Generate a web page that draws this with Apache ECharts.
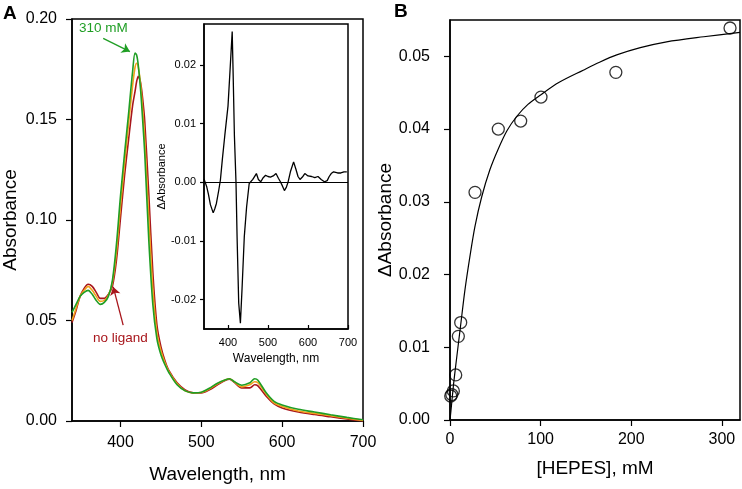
<!DOCTYPE html>
<html>
<head>
<meta charset="utf-8">
<script src="https://cdn.jsdelivr.net/npm/echarts@6/dist/echarts.min.js"></script>
<style>
  html, body { margin: 0; padding: 0; background: #fff; }
  #chart { width: 742px; height: 489px; }
</style>
</head>
<body>
<div id="chart"></div>
<script>
// panel A: spectra (wavelength, nm)
var wavelengths = [340,345,350,355,360,365,370,375,380,385,390,395,400,405,410,415,418,420,422,425,428,430,435,440,445,450,455,460,470,480,490,500,510,520,530,535,540,550,560,566,570,580,590,600,620,640,660,680,700];
var absNoLigand = [0.049,0.055,0.062,0.066,0.068,0.067,0.064,0.061,0.061,0.063,0.067,0.080,0.101,0.122,0.140,0.157,0.164,0.169,0.1715,0.168,0.158,0.149,0.113,0.074,0.048,0.037,0.030,0.025,0.019,0.0155,0.014,0.014,0.0155,0.018,0.0203,0.0208,0.0195,0.0165,0.0165,0.018,0.0175,0.0125,0.0085,0.0065,0.0045,0.0032,0.0021,0.0010,0.0];
var absMid = [0.050,0.056,0.062,0.065,0.067,0.065,0.062,0.0595,0.060,0.0625,0.069,0.084,0.107,0.128,0.148,0.167,0.176,0.178,0.176,0.167,0.152,0.140,0.101,0.066,0.044,0.035,0.029,0.0245,0.0185,0.015,0.014,0.0142,0.016,0.0185,0.0205,0.021,0.0197,0.017,0.018,0.0195,0.019,0.0135,0.009,0.0072,0.005,0.0038,0.0026,0.0014,0.0003];
var abs310 = [0.054,0.058,0.062,0.064,0.065,0.063,0.060,0.058,0.059,0.062,0.070,0.088,0.112,0.133,0.153,0.174,0.183,0.182,0.177,0.164,0.146,0.133,0.090,0.058,0.041,0.033,0.028,0.024,0.018,0.015,0.014,0.0143,0.0163,0.0188,0.0205,0.021,0.0198,0.0178,0.019,0.021,0.0203,0.0142,0.0098,0.0080,0.0058,0.0045,0.0031,0.0018,0.0006];

// inset: difference spectrum
var diffWl = [340,343,347,351,356,363,367,371,377,381,386,392,400,405,410.5,413,416,420,422.7,426.8,431,435,440.7,446.5,453,462,471,476,482,488,494,500,506,513,520,526,531,536,541,546,550,556,564,570,575,580,586,592,600,609,617,625,633,641,648,653,658,664,669,674,682,690,697];
var diffAbs = [0.0006,0.0008,-0.0008,-0.0020,-0.0038,-0.0052,-0.0045,-0.0036,-0.0013,0.0004,0.0040,0.0080,0.0130,0.0190,0.0257,0.0180,0.0080,0.0000,-0.0093,-0.0206,-0.0240,-0.0183,-0.0093,-0.0042,-0.0002,0.0005,0.0015,0.0005,0.0001,0.0008,0.0012,0.0010,0.0009,0.0011,0.0015,0.0007,0.0001,-0.0006,-0.0014,-0.0008,0.0000,0.0018,0.0035,0.0022,0.0010,0.0005,0.0009,0.0015,0.0011,0.0010,0.0008,0.0010,0.0005,0.0001,0.0003,0.0010,0.0015,0.0018,0.0015,0.0016,0.0016,0.0018,0.0018];

// panel B: titration
var hepes = [0.8,2,3.7,6.3,9.2,11.8,27.6,53.3,78,100.4,183,309];
var deltaAbs = [0.0033,0.0035,0.0040,0.0062,0.0115,0.0134,0.0313,0.0400,0.0411,0.0444,0.0478,0.0539];
var fitX = [0,1,4,7.5,12,16.5,22,27.5,35,44,53,63,74,86,100,120,147,165,184,210,239,280,320];
var fitY = [0,0.0012,0.0050,0.0087,0.0133,0.0179,0.0225,0.0266,0.0307,0.0344,0.0372,0.0398,0.0418,0.0434,0.0447,0.0464,0.0481,0.0492,0.0502,0.0512,0.0520,0.0527,0.0533];

var mainTicksX = [400,500,600,700];
var mainTicksY = [0,0.05,0.10,0.15,0.20];
var insetTicksY = [-0.02,-0.01,0,0.01,0.02];
var bTicksX = [0,100,200,300];
var bTicksY = [0,0.01,0.02,0.03,0.04,0.05];

function pairs(xs, ys) { return xs.map(function (x, i) { return [x, ys[i]]; }); }

var FONT = 'Liberation Sans, Arial, sans-serif';
var NARROW = 'Liberation Sans Narrow, Liberation Sans, Arial, sans-serif';
var RED = '#a8161c', ORANGE = '#f2a21c', GREEN = '#1f9e24';

function axisBase(grid, min, max, ticks, fmt, size, font, tickIn) {
  return {
    type: 'value', gridIndex: grid, min: min, max: max,
    axisLine: { show: true, onZero: false, lineStyle: { color: '#000', width: 1.5 } },
    axisTick: { show: true, inside: !!tickIn, length: size > 12 ? 6 : 4, customValues: ticks, lineStyle: { color: '#000', width: 1.2 } },
    axisLabel: { customValues: ticks, color: '#000', fontSize: size, fontFamily: font, formatter: fmt },
    splitLine: { show: false },
    nameTextStyle: { color: '#000', fontFamily: font }
  };
}
var f2 = function (v) { return v.toFixed(2); };
var f0 = function (v) { return String(Math.round(v)); };

var chart = echarts.init(document.getElementById('chart'));

var xA = axisBase(0, 340, 700, mainTicksX, f0, 16, FONT);
xA.name = 'Wavelength, nm'; xA.nameLocation = 'middle'; xA.nameGap = 44; xA.nameTextStyle.fontSize = 19;
xA.axisLabel.margin = 14;
var yA = axisBase(0, 0, 0.2, mainTicksY, f2, 16, FONT);
yA.name = 'Absorbance'; yA.nameLocation = 'middle'; yA.nameGap = 52; yA.nameTextStyle.fontSize = 19;
yA.axisLabel.margin = 15;

var xI = axisBase(1, 340, 700, mainTicksX, f0, 11, NARROW, true);
xI.name = 'Wavelength, nm'; xI.nameLocation = 'middle'; xI.nameGap = 23; xI.nameTextStyle.fontSize = 12;
xI.axisLabel.margin = 8;
var yI = axisBase(1, -0.025, 0.027, insetTicksY, f2, 11, NARROW);
yI.name = '\u0394Absorbance'; yI.nameLocation = 'middle'; yI.nameGap = 29; yI.nameTextStyle.fontSize = 11;
yI.axisLabel.margin = 8;

var xB = axisBase(2, 0, 320, bTicksX, f0, 16, FONT);
xB.name = '[HEPES], mM'; xB.nameLocation = 'middle'; xB.nameGap = 39; xB.nameTextStyle.fontSize = 19;
xB.axisLabel.margin = 12;
var yB = axisBase(2, 0, 0.055, bTicksY, f2, 16, FONT);
yB.name = '\u0394Absorbance'; yB.nameLocation = 'middle'; yB.nameGap = 43; yB.nameTextStyle.fontSize = 19;
yB.axisLabel.margin = 20;

var gridStyle = { show: true, borderColor: '#000', borderWidth: 1.5, backgroundColor: 'transparent' };

var option = {
  animation: false,
  textStyle: { fontFamily: FONT },
  grid: [
    Object.assign({ left: 72, top: 19, width: 291, height: 404 }, gridStyle),
    Object.assign({ left: 204, top: 24, width: 144, height: 305 }, gridStyle),
    Object.assign({ left: 450, top: 20, width: 290, height: 400 }, gridStyle)
  ],
  xAxis: [xA, xI, xB],
  yAxis: [yA, yI, yB],
  graphic: [
    { type: 'text', left: 3, top: 4, style: { text: 'A', font: 'bold 19px ' + FONT, fill: '#000' } },
    { type: 'text', left: 394, top: 2, style: { text: 'B', font: 'bold 19px ' + FONT, fill: '#000' } },
    { type: 'text', left: 79, top: 21, style: { text: '310 mM', font: '13.5px ' + FONT, fill: GREEN } },
    { type: 'text', left: 93, top: 331, style: { text: 'no ligand', font: '13.5px ' + FONT, fill: RED } }
  ],
  series: [
    {
      type: 'line', xAxisIndex: 0, yAxisIndex: 0, data: pairs(wavelengths, absNoLigand),
      showSymbol: false, smooth: 0.3, lineStyle: { color: RED, width: 1.6 },
      markLine: {
        silent: true, symbol: ['none', 'arrow'], symbolSize: 8, label: { show: false },
        lineStyle: { color: RED, width: 1.3, type: 'solid' },
        data: [[{ coord: [403.3, 0.0477] }, { coord: [391, 0.0667] }]]
      }
    },
    {
      type: 'line', xAxisIndex: 0, yAxisIndex: 0, data: pairs(wavelengths, absMid),
      showSymbol: false, smooth: 0.3, lineStyle: { color: ORANGE, width: 1.6 }
    },
    {
      type: 'line', xAxisIndex: 0, yAxisIndex: 0, data: pairs(wavelengths, abs310),
      showSymbol: false, smooth: 0.3, lineStyle: { color: GREEN, width: 1.6 },
      markLine: {
        silent: true, symbol: ['none', 'arrow'], symbolSize: 8, label: { show: false },
        lineStyle: { color: GREEN, width: 1.3, type: 'solid' },
        data: [[{ coord: [378.6, 0.1904] }, { coord: [411.6, 0.1838] }]]
      }
    },
    {
      type: 'line', xAxisIndex: 1, yAxisIndex: 1, data: pairs(diffWl, diffAbs),
      showSymbol: false, lineStyle: { color: '#000', width: 1.3 },
      markLine: {
        silent: true, symbol: ['none', 'none'], label: { show: false },
        lineStyle: { color: '#000', width: 1.2, type: 'solid' },
        data: [{ yAxis: 0 }]
      }
    },
    {
      type: 'line', xAxisIndex: 2, yAxisIndex: 2, data: pairs(fitX, fitY),
      showSymbol: false, smooth: 0.3, lineStyle: { color: '#000', width: 1.2 }
    },
    {
      type: 'scatter', xAxisIndex: 2, yAxisIndex: 2, data: pairs(hepes, deltaAbs),
      symbol: 'circle', symbolSize: 12,
      itemStyle: { color: 'rgba(255,255,255,0)', borderColor: '#000', borderWidth: 1.3 }
    }
  ]
};
chart.setOption(option);
</script>
</body>
</html>
